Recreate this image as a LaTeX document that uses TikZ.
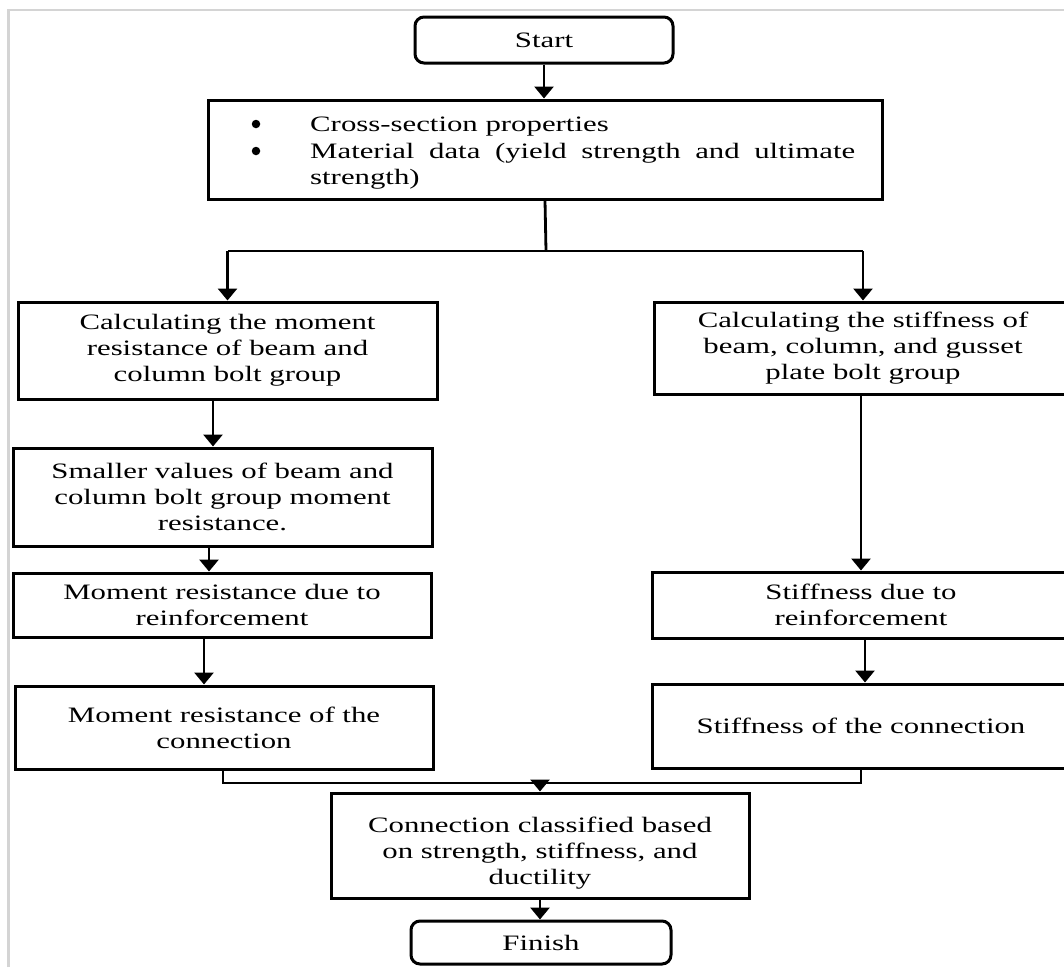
\documentclass[tikz,border=0pt]{standalone}
\usepackage{fontspec}
\setmainfont{Liberation Serif}[FakeStretch=1.4]
\usetikzlibrary{arrows.meta}
\tikzset{
  box/.style={draw, line width=3pt, rectangle, inner sep=0pt, align=center,
    font=\fontsize{22}{26}\selectfont},
  term/.style={box, rounded corners=9pt},
  txt/.style={inner sep=0pt, font=\fontsize{22}{26}\selectfont},
  bullet/.style={circle, fill=black, inner sep=0pt, minimum size=8.5pt},
  conn/.style={line width=2.8pt},
  arr/.style={conn, -{Triangle[length=12pt,width=19pt]}},
}
\begin{document}
\begin{tikzpicture}[x=1pt,y=-1pt]
\useasboundingbox (0,0) rectangle (1064,967);
\fill[white] (0,0) rectangle (1064,967);
\clip (0,0) rectangle (1064,967);
\draw[black!17, line width=2.2pt] (8.5,967) -- (8.5,10) -- (1064,10);

% nodes
\node[term, minimum width=258pt, minimum height=46pt] (start) at (544,40) {Start};
\node[box, minimum width=674pt, minimum height=99pt] (props) at (545,149.5) {};
\node[bullet] (b1) at (256,124) {};
\node[bullet] (b2) at (256,151) {};
\node[txt, anchor=base west] (p1) at (310,131) {Cross-section properties};
\node[txt, anchor=base west] (p2) at (310,158) {\makebox[545pt][s]{Material data (yield strength and ultimate}};
\node[txt, anchor=base west] (p3) at (310,184) {strength)};

\node[box, minimum width=419pt, minimum height=97pt] (L1) at (227.5,350.5)
  {Calculating the moment\\resistance of beam and\\column bolt group};
\node[box, minimum width=418pt, minimum height=92pt] (R1) at (863,348)
  {Calculating the stiffness of\\beam, column, and gusset\\plate bolt group};
\node[box, minimum width=419pt, minimum height=98pt] (L2) at (222.5,497)
  {Smaller values of beam and\\column bolt group moment\\resistance.};
\node[box, minimum width=418pt, minimum height=64pt] (L3) at (222,605)
  {Moment resistance due to\\reinforcement};
\node[box, minimum width=418pt, minimum height=83pt] (L4) at (224,727.5)
  {Moment resistance of the\\connection};
\node[box, minimum width=418pt, minimum height=66pt] (R2) at (861,605)
  {Stiffness due to\\reinforcement};
\node[box, minimum width=418pt, minimum height=84pt] (R3) at (861,726)
  {Stiffness of the connection};
\node[box, minimum width=418pt, minimum height=105pt] (cls) at (540,845.5) {};
\node[txt, align=center] (clstxt) at (540,853)
  {Connection classified based\\on strength, stiffness, and\\ductility};
\node[term, minimum width=260pt, minimum height=43pt] (finish) at (541,942.5) {Finish};

% coordinates
\coordinate (split) at (546,251);
\coordinate (mL) at (223,783);
\coordinate (mM) at (540,783);
\coordinate (mR) at (861,783);

% connectors
\draw[arr] (start.south) -- (start.south |- props.north);
\draw[conn] (props.south) -- (split);
\draw[conn] (split) -- (split -| L1.north);
\draw[conn] (split) -- (split -| R1.north);
\draw[arr] (split -| L1.north) -- (L1.north);
\draw[arr] (split -| R1.north) -- (R1.north);
\draw[arr] ([xshift=-14.5pt]L1.south) -- ([xshift=-9.5pt]L2.north);
\draw[arr] ([xshift=-13.5pt]L2.south) -- ([xshift=-13pt]L3.north);
\draw[arr] ([xshift=-18pt]L3.south) -- ([xshift=-20pt]L4.north);
\draw[arr] (R2.north |- R1.south) -- (R2.north);
\draw[arr] ([xshift=4pt]R2.south) -- ([xshift=4pt]R3.north);
\draw[conn] ([xshift=-1pt]L4.south) -- (mL) -- (mR) -- (R3.south);
\draw[arr] (mM) -- (cls.north);
\draw[arr] (cls.south) -- (cls.south |- finish.north);
\end{tikzpicture}
\end{document}
